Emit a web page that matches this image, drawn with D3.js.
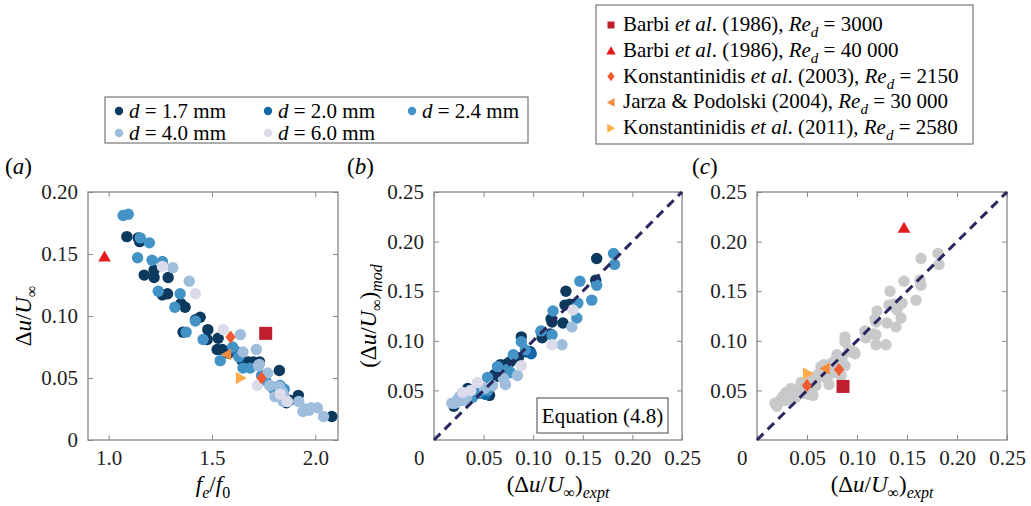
<!DOCTYPE html>
<meta charset="utf-8">
<style>
  body { margin: 0; padding: 0; background: #fff; }
  svg { font-family: "Liberation Serif", Tinos, "DejaVu Serif", serif; }
  .tick text { font-family: "Liberation Serif", Tinos, "DejaVu Serif", serif; font-size: 21px; fill: #222; }
  .tick line { stroke: #888; }
</style>
<body>
<script src="https://d3js.org/d3.v7.min.js"></script>
<script>

// ---------- data ----------
var diameters = ["1.7", "2.0", "2.4", "4.0", "6.0"];
var dColors = ["#0b3a5e", "#1268a8", "#4393c6", "#9fbddc", "#dbdbeb"];

// panel (a): [fe/f0, du/Uinf]
var ratio17 = [[1.088,0.164],[1.143,0.163],[1.15,0.160],[1.172,0.133],[1.22,0.131],[1.22,0.137],[1.288,0.131],
  [1.26,0.117],[1.285,0.118],[1.35,0.110],[1.37,0.107],[1.443,0.099],[1.42,0.097],[1.36,0.087],[1.48,0.089],
  [1.477,0.081],[1.53,0.082],[1.525,0.073],[1.55,0.073],[1.58,0.070],[1.646,0.064],[1.675,0.063],[1.70,0.063],
  [1.73,0.063],[1.826,0.056],[1.918,0.036],[1.86,0.030],[1.875,0.032],[2.08,0.019]];
var ratio20 = [[1.62,0.071],[1.80,0.041]];
var ratio24 = [[1.07,0.181],[1.095,0.182],[1.153,0.163],[1.197,0.159],[1.14,0.147],[1.21,0.145],[1.26,0.144],
  [1.24,0.120],[1.346,0.118],[1.32,0.107],[1.42,0.096],[1.375,0.087],[1.457,0.081],[1.54,0.064],[1.60,0.075],
  [1.63,0.067],[1.65,0.058],[1.685,0.058],[1.74,0.052],[1.76,0.048],[1.79,0.043],[1.83,0.044],[1.815,0.038],[1.85,0.041]];
var ratio40 = [[1.31,0.139],[1.39,0.128],[1.637,0.085],[1.715,0.073],[1.65,0.071],[1.725,0.060],[1.73,0.061],
  [1.77,0.054],[1.78,0.044],[1.805,0.035],[1.827,0.043],[1.845,0.031],[1.84,0.039],[1.85,0.035],[1.92,0.031],
  [1.95,0.025],[1.98,0.026],[2.01,0.026],[1.94,0.023],[1.97,0.024],[2.04,0.019]];
var ratio60 = [[1.26,0.140],[1.42,0.118],[1.555,0.089],[1.72,0.044],[1.83,0.037],[1.865,0.031]];

// panels (b), (c): [expt, mod]
var model17 = [[0.164,0.183],[0.163,0.161],[0.133,0.150],[0.132,0.136],[0.137,0.137],[0.130,0.118],[0.118,0.122],
  [0.119,0.119],[0.109,0.103],[0.108,0.109],[0.117,0.107],[0.088,0.104],[0.097,0.089],[0.093,0.089],[0.085,0.083],
  [0.074,0.077],[0.077,0.079],[0.067,0.076],[0.061,0.066],[0.063,0.064],[0.056,0.045],[0.034,0.052],[0.020,0.034],[0.045,0.047]];
var model20 = [[0.098,0.087],[0.052,0.046]];
var model24 = [[0.181,0.188],[0.182,0.177],[0.164,0.156],[0.147,0.160],[0.159,0.141],[0.145,0.138],[0.144,0.123],
  [0.120,0.130],[0.108,0.110],[0.119,0.106],[0.088,0.099],[0.092,0.091],[0.080,0.086],[0.064,0.074],[0.074,0.071],
  [0.077,0.068],[0.054,0.063],[0.048,0.050],[0.054,0.050],[0.044,0.047],[0.039,0.043],[0.028,0.040]];
var model40 = [[0.139,0.114],[0.129,0.096],[0.084,0.065],[0.070,0.062],[0.072,0.056],[0.059,0.055],[0.051,0.052],
  [0.021,0.037],[0.024,0.041],[0.026,0.044],[0.022,0.038],[0.033,0.043],[0.018,0.037],[0.030,0.040]];
var model60 = [[0.140,0.131],[0.119,0.096],[0.088,0.075],[0.044,0.058],[0.037,0.050],[0.029,0.048]];

// literature
var litShapes = ["square", "triUp", "diamond", "triLeft", "triRight"];
var litColors = ["#be1e2d", "#e41a1c", "#f15a30", "#f58c3e", "#fdae4b"];
var litRatio = [[[1.76,0.086]], [[0.98,0.148]], [[1.59,0.083],[1.74,0.050]], [[1.57,0.069]], [[1.64,0.050]]];
var litModel = [[[0.086,0.054]], [[0.147,0.214]], [[0.082,0.071],[0.050,0.055]], [[0.068,0.072]], [[0.051,0.067]]];
var litLabels = [
  [["Barbi ",""],["et al","i"],[". (1986), ",""],["Re","i"],["d","isub"],[" = 3000",""]],
  [["Barbi ",""],["et al","i"],[". (1986), ",""],["Re","i"],["d","isub"],[" = 40 000",""]],
  [["Konstantinidis ",""],["et al","i"],[". (2003), ",""],["Re","i"],["d","isub"],[" = 2150",""]],
  [["Jarza & Podolski (2004), ",""],["Re","i"],["d","isub"],[" = 30 000",""]],
  [["Konstantinidis ",""],["et al","i"],[". (2011), ",""],["Re","i"],["d","isub"],[" = 2580",""]]
];

var ticksAx = [1.0, 1.5, 2.0];
var ticksAy = [0, 0.05, 0.10, 0.15, 0.20];
var ticksBCx = [0, 0.05, 0.10, 0.15, 0.20, 0.25];
var ticksBCy = [0.05, 0.10, 0.15, 0.20, 0.25];

// ---------- drawing ----------
var svg = d3.select("body").append("svg").attr("width", 1031).attr("height", 506);

function poly(pts) {
  return { draw: function(ctx, size) {
    var s = Math.sqrt(size) / 2;
    ctx.moveTo(pts[0][0]*s, pts[0][1]*s);
    for (var i = 1; i < pts.length; i++) ctx.lineTo(pts[i][0]*s, pts[i][1]*s);
    ctx.closePath();
  }};
}
var shapes = {
  square: poly([[-1,-1],[1,-1],[1,1],[-1,1]]),
  triUp: poly([[0,-1],[1.05,0.85],[-1.05,0.85]]),
  diamond: poly([[0,-1.1],[0.85,0],[0,1.1],[-0.85,0]]),
  triLeft: poly([[-1,0],[0.85,-1.05],[0.85,1.05]]),
  triRight: poly([[1,0],[-0.85,-1.05],[-0.85,1.05]])
};
var litSize = [169, 144, 144, 130, 140];

function rich(text, parts, size) {
  var shift = 0;
  parts.forEach(function(p) {
    var t = text.append("tspan").text(p[0]);
    if (p[1].indexOf("i") >= 0) t.style("font-style", "italic");
    var sub = p[1].indexOf("sub") >= 0;
    var want = sub ? Math.round(size * 0.27) : 0;
    if (want !== shift) { t.attr("dy", want - shift); shift = want; }
    if (sub) t.attr("font-size", Math.round(size * 0.7));
  });
}

var plotTop = 192, plotBottom = 440;
var fmt2 = function(d) { return d === 0 ? "0" : d3.format(".2f")(d); };

function panel(cfg) {
  var g = svg.append("g");
  var x = d3.scaleLinear().domain(cfg.xDom).range([cfg.left, cfg.right]);
  var y = d3.scaleLinear().domain(cfg.yDom).range([plotBottom, plotTop]);

  var bx = g.append("g").attr("transform", "translate(0," + plotBottom + ")")
    .call(d3.axisBottom(x).tickValues(cfg.xTicks).tickSize(-5).tickPadding(10).tickFormat(cfg.xFmt));
  bx.selectAll(".tick").filter(function(d) { return d === 0; }).select("text")
    .attr("text-anchor", "end").attr("x", -10);
  g.append("g").attr("transform", "translate(0," + plotTop + ")")
    .call(d3.axisTop(x).tickValues(cfg.xTicks).tickSize(-5).tickFormat(""));
  g.append("g").attr("transform", "translate(" + cfg.left + ",0)")
    .call(d3.axisLeft(y).tickValues(cfg.yTicks).tickSize(-5).tickPadding(10).tickFormat(fmt2));
  g.append("g").attr("transform", "translate(" + cfg.right + ",0)")
    .call(d3.axisRight(y).tickValues(cfg.yTicks).tickSize(-5).tickFormat(""));
  g.selectAll(".domain").remove();
  g.append("rect").attr("x", cfg.left).attr("y", plotTop)
    .attr("width", cfg.right - cfg.left).attr("height", plotBottom - plotTop)
    .attr("fill", "none").attr("stroke", "#888").attr("stroke-width", 1.3);

  cfg.groups.forEach(function(pts, i) {
    g.append("g").selectAll("circle").data(pts).join("circle")
      .attr("cx", function(d) { return x(d[0]); })
      .attr("cy", function(d) { return y(d[1]); })
      .attr("r", 5.7)
      .attr("fill", cfg.grey ? "#c8c9cb" : dColors[i]);
  });

  if (cfg.diag) {
    g.append("line").attr("x1", x(0)).attr("y1", y(0)).attr("x2", x(0.25)).attr("y2", y(0.25))
      .attr("stroke", "#29275f").attr("stroke-width", 3).attr("stroke-dasharray", "9,6");
  }

  if (cfg.lit) {
    cfg.lit.forEach(function(pts, i) {
      g.append("g").selectAll("path").data(pts).join("path")
        .attr("transform", function(d) { return "translate(" + x(d[0]) + "," + y(d[1]) + ")"; })
        .attr("d", d3.symbol().type(shapes[litShapes[i]]).size(litSize[i]))
        .attr("fill", litColors[i]);
    });
  }

  var lab = g.append("text").attr("x", cfg.tagX).attr("y", 174).attr("font-size", 23);
  rich(lab, [["(",""],[cfg.tag,"i"],[")",""]], 23);

  var xl = g.append("text").attr("x", (cfg.left + cfg.right) / 2).attr("y", 492)
    .attr("text-anchor", "middle").attr("font-size", 23);
  rich(xl, cfg.xLabel, 23);
  if (cfg.yLabel) {
    var yl = g.append("text").attr("transform", "translate(" + cfg.yLabX + "," + (plotTop + plotBottom) / 2 + ") rotate(-90)")
      .attr("text-anchor", "middle").attr("font-size", 23);
    rich(yl, cfg.yLabel, 23);
  }
  return { x: x, y: y, g: g };
}

var duLabel = [["Δ",""],["u","i"],["/",""],["U","i"],["∞","sub"]];
var exptLabel = [["(Δ",""],["u","i"],["/",""],["U","i"],["∞","sub"],[")",""],["expt","isub"]];
var modLabel = [["(Δ",""],["u","i"],["/",""],["U","i"],["∞","sub"],[")",""],["mod","isub"]];

panel({ left: 88, right: 338, xDom: [0.9, 2.11], yDom: [0, 0.2], xTicks: ticksAx, yTicks: ticksAy,
  xFmt: d3.format(".1f"), groups: [ratio17, ratio20, ratio24, ratio40, ratio60], lit: litRatio,
  tag: "a", tagX: 5, xLabel: [["f","i"],["e","isub"],["/",""],["f","i"],["0","sub"]],
  yLabel: duLabel, yLabX: 31 });

var pb = panel({ left: 434, right: 682, xDom: [0, 0.25], yDom: [0, 0.25], xTicks: ticksBCx, yTicks: ticksBCy,
  xFmt: fmt2, groups: [model17, model20, model24, model40, model60], diag: true,
  tag: "b", tagX: 347, xLabel: exptLabel, yLabel: modLabel, yLabX: 376 });

panel({ left: 757, right: 1007, xDom: [0, 0.25], yDom: [0, 0.25], xTicks: ticksBCx, yTicks: ticksBCy,
  xFmt: fmt2, groups: [model17, model20, model24, model40, model60], grey: true, diag: true, lit: litModel,
  tag: "c", tagX: 692, xLabel: exptLabel });

// equation box in (b)
pb.g.append("rect").attr("x", 537).attr("y", 398).attr("width", 131).attr("height", 35)
  .attr("fill", "#fff").attr("stroke", "#444").attr("stroke-width", 1);
pb.g.append("text").attr("x", 602.5).attr("y", 423).attr("text-anchor", "middle")
  .attr("font-size", 21).text("Equation (4.8)");

// legend of diameters
var leg1 = svg.append("g");
leg1.append("rect").attr("x", 105).attr("y", 97).attr("width", 423).attr("height", 46)
  .attr("fill", "#fff").attr("stroke", "#777").attr("stroke-width", 1.2);
var colX = [119, 268, 412], rowY = [111, 133];
diameters.forEach(function(dm, i) {
  var cx = colX[i % 3], cy = rowY[Math.floor(i / 3)];
  leg1.append("circle").attr("cx", cx).attr("cy", cy).attr("r", 4.2).attr("fill", dColors[i]);
  var t = leg1.append("text").attr("x", cx + 10).attr("y", cy + 7).attr("font-size", 21);
  rich(t, [["d","i"],[" = " + dm + " mm",""]], 21);
});

// legend of literature
var leg2 = svg.append("g");
leg2.append("rect").attr("x", 596).attr("y", 5).attr("width", 377).attr("height", 139)
  .attr("fill", "#fff").attr("stroke", "#777").attr("stroke-width", 1.2);
var legSize = [49, 80, 75, 70, 75];
litLabels.forEach(function(parts, i) {
  var by = 31 + i * 25.8;
  leg2.append("path").attr("transform", "translate(611," + (by - 6) + ")")
    .attr("d", d3.symbol().type(shapes[litShapes[i]]).size(legSize[i]))
    .attr("fill", litColors[i]);
  var t = leg2.append("text").attr("x", 623).attr("y", by).attr("font-size", 21);
  rich(t, parts, 21);
});

</script>
</body>
